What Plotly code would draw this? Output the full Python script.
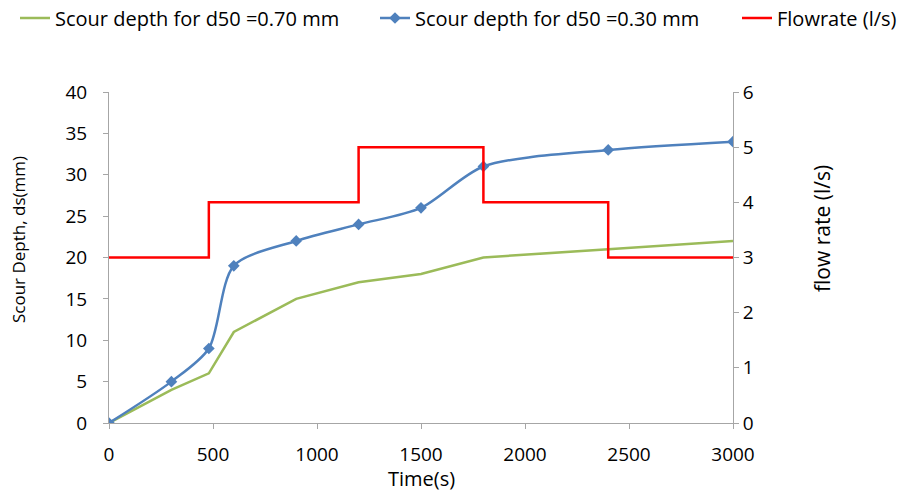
import plotly.graph_objects as go

# Time (s) and scour depth (mm)
time_s = [0, 300, 480, 600, 900, 1200, 1500, 1800, 2400, 3000]
depth_070 = [0, 4, 6, 11, 15, 17, 18, 20, 21, 22]
depth_030 = [0, 5, 9, 19, 22, 24, 26, 31, 33, 34]

# Flow rate steps (l/s)
flow_time = [0, 480, 1200, 1800, 2400, 3000]
flow_rate = [3, 4, 5, 4, 3, 3]

FONT = "Open Sans"
AXIS_GREY = "#A6A6A6"
W, H = 905, 492

fig = go.Figure()

fig.add_trace(go.Scatter(
    x=time_s, y=depth_070, mode="lines",
    name="Scour depth for d50 =0.70 mm",
    line=dict(color="#9BBB59", width=2.5),
    legend="legend",
))
fig.add_trace(go.Scatter(
    x=time_s, y=depth_030, mode="lines+markers",
    name="Scour depth for d50 =0.30 mm",
    line=dict(color="#4F81BD", width=2.5, shape="spline", smoothing=0.8),
    marker=dict(symbol="diamond", size=9, color="#4F81BD"),
    legend="legend2",
))
fig.add_trace(go.Scatter(
    x=flow_time, y=flow_rate, mode="lines",
    name="Flowrate (l/s)",
    line=dict(color="#FF0000", width=2.5, shape="hv"),
    yaxis="y2",
    legend="legend3",
))

legend_common = dict(
    orientation="h", xref="container", yref="container",
    yanchor="middle", y=1 - 18 / H, xanchor="left",
    font=dict(family=FONT, size=20, color="#000000"),
    bgcolor="rgba(0,0,0,0)", itemwidth=30, visible=True,
)

axis_common = dict(
    showgrid=False, zeroline=False, showline=True, linecolor=AXIS_GREY,
    linewidth=1, ticks="outside", tickcolor=AXIS_GREY, ticklen=5,
    tickfont=dict(family=FONT, size=19, color="#000000"),
)


def title_note(text, x_px, y_px, size, angle):
    return dict(
        text=text, xref="paper", yref="paper", showarrow=False,
        x=(x_px - 109) / (W - 109 - 172), y=(H - 69 - y_px) / (H - 92 - 69),
        xanchor="center", yanchor="middle", textangle=angle,
        font=dict(family=FONT, size=size, color="#000000"),
    )


fig.update_layout(
    width=W, height=H,
    margin=dict(l=109, r=172, t=92, b=69),
    plot_bgcolor="white", paper_bgcolor="white",
    showlegend=True,
    legend=dict(legend_common, x=15 / W),
    legend2=dict(legend_common, x=375 / W),
    legend3=dict(legend_common, x=737 / W),
    xaxis=dict(axis_common, range=[0, 3000], dtick=500, ticklabelstandoff=9),
    yaxis=dict(axis_common, range=[0, 40], dtick=5, ticklabelstandoff=12),
    yaxis2=dict(axis_common, range=[0, 6], dtick=1, overlaying="y", side="right"),
    annotations=[
        title_note("Time(s)", 421, 478, 20, 0),
        title_note("Scour Depth, ds(mm)", 18, 240, 17, -90),
        title_note("flow rate (l/s)", 822, 229, 21, -90),
    ],
)

fig.write_html("out.html")
